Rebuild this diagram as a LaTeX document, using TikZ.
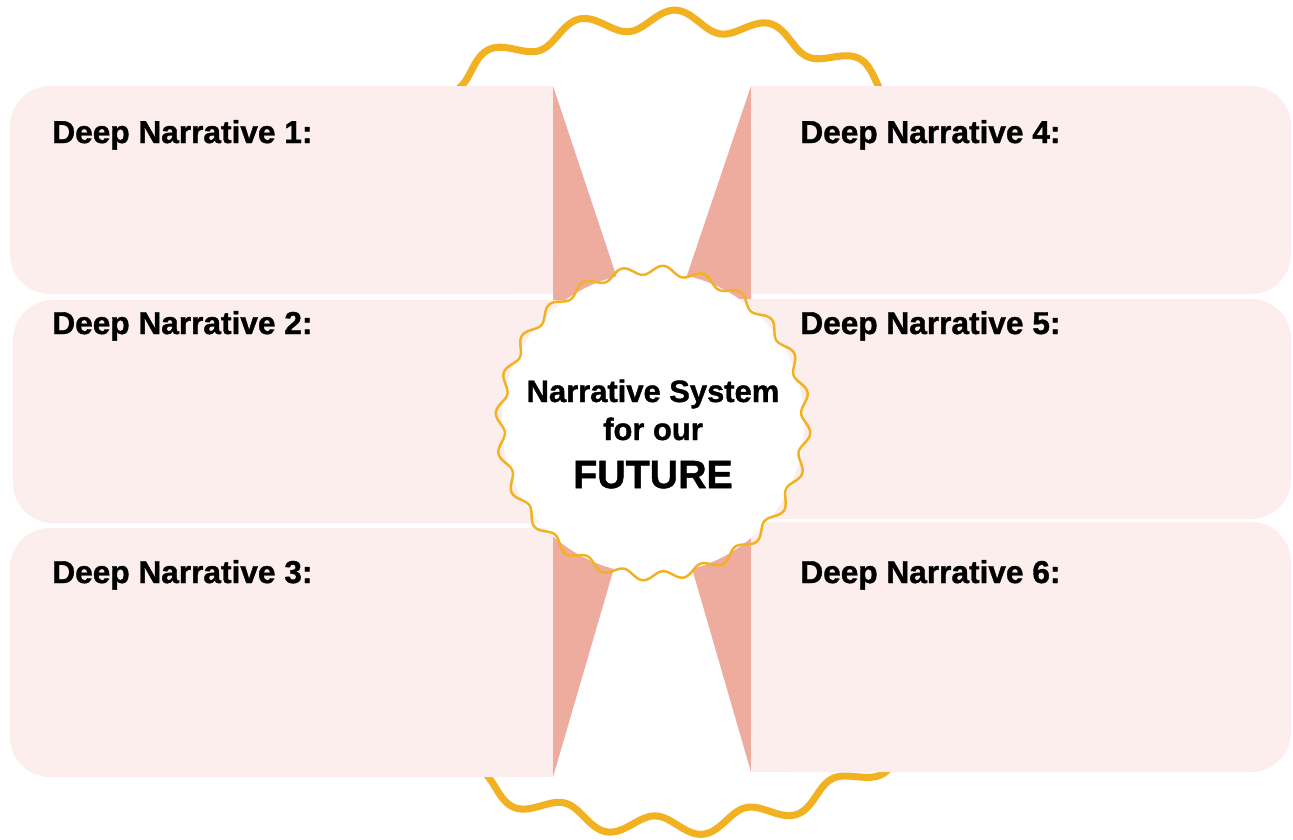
\documentclass[tikz,border=0pt]{standalone}
\usepackage{fontspec}
\setmainfont{Liberation Sans}[BoldFeatures={FakeBold=1.2}]
\definecolor{boxpink}{RGB}{251,238,236}
\definecolor{salmon}{RGB}{238,172,159}
\definecolor{gold}{RGB}{242,177,33}

\begin{document}
\begin{tikzpicture}[x=0.02cm, y=-0.02cm,
  box/.style={fill=boxpink, rounded corners=0.8cm},
  funnel/.style={fill=salmon},
  wave/.style={draw=gold, line join=round},
  dn/.style={anchor=base west, inner sep=0pt, font=\fontsize{18}{20}\selectfont\bfseries},
  ctr/.style={anchor=base, inner sep=0pt, font=\fontsize{17.6}{20}\selectfont\bfseries}]
  \useasboundingbox[fill=white] (0,0) rectangle (1293,839);
  % outer ring, only its top and bottom show
  \begin{scope}
    \clip (0,0) rectangle (1293,200) (0,650) rectangle (1293,839);
    \draw[wave, line width=4pt] plot[domain=0:360, samples=721, variable=\t]
      ({665+(403+10*sin(27*\t-38))*cos(\t)}, {423+(403+10*sin(27*\t-38))*sin(\t)}) -- cycle;
  \end{scope}
  % funnels
  \fill[funnel] (553,86) -- (626,305) -- (553,305) -- cycle;
  \fill[funnel] (751,86) -- (677,305) -- (751,305) -- cycle;
  \fill[funnel] (553,777) -- (628,520) -- (553,520) -- cycle;
  \fill[funnel] (751,772) -- (678,520) -- (751,520) -- cycle;
  % boxes
  \fill[box] (10,86) rectangle (553,294);   \fill[boxpink] (500,86) rectangle (553,294);
  \fill[box] (13,300) rectangle (653,523);
  \fill[box] (10,528) rectangle (553,777);  \fill[boxpink] (500,528) rectangle (553,777);
  \fill[box] (751,86) rectangle (1291,294); \fill[boxpink] (751,86) rectangle (800,294);
  \fill[box] (653,299) rectangle (1291,519);
  \fill[box] (751,522) rectangle (1291,772); \fill[boxpink] (751,522) rectangle (800,772);
  % centre
  \node[circle, fill=white, minimum size=6.04cm, inner sep=0pt] (core) at (653,423) {};
  \draw[wave, line width=1.4pt] plot[domain=0:360, samples=721, variable=\t]
    ({653+(153+4.5*sin(24*\t))*cos(\t)}, {423+(153+4.5*sin(24*\t))*sin(\t)}) -- cycle;
  \node[ctr] (sys) at (653,402) {Narrative System};
  \node[ctr] (our) at (653,440) {for our};
  \node[ctr, font=\fontsize{22.4}{26}\selectfont\bfseries] (future) at (653,488) {FUTURE};
  % labels
  \node[dn] (dn1) at (52,143) {Deep Narrative 1:};
  \node[dn] (dn2) at (52,334) {Deep Narrative 2:};
  \node[dn] (dn3) at (52,583) {Deep Narrative 3:};
  \node[dn] (dn4) at (800,143) {Deep Narrative 4:};
  \node[dn] (dn5) at (800,334) {Deep Narrative 5:};
  \node[dn] (dn6) at (800,583) {Deep Narrative 6:};
\end{tikzpicture}
\end{document}
